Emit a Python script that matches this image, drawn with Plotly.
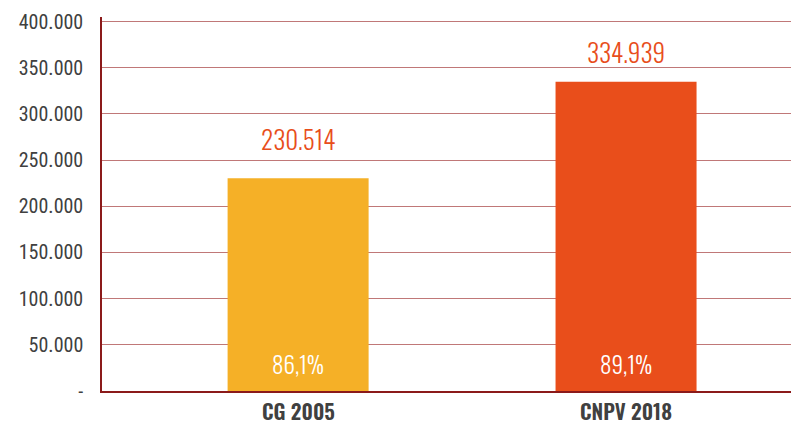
import plotly.graph_objects as go

categories = ["CG 2005", "CNPV 2018"]
values = [230514, 334939]
value_labels = ["230.514", "334.939"]
pct_labels = ["86,1%", "89,1%"]
bar_colors = ["#F5B027", "#E94E1B"]
tick_vals = [0, 50000, 100000, 150000, 200000, 250000, 300000, 350000, 400000]
tick_text = ["-", "50.000", "100.000", "150.000", "200.000", "250.000", "300.000", "350.000", "400.000"]

TICK_FONT = "Roboto Condensed, Oswald, sans-serif"
LABEL_FONT = "Oswald, Roboto Condensed, sans-serif"
label_shift = [19, 10]  # pixel offset of value labels above bars
xs = list(range(len(categories)))

fig = go.Figure()
fig.add_trace(go.Bar(
    x=xs, y=values, width=0.43,
    marker=dict(color=bar_colors, line=dict(width=0)),
    hoverinfo="skip",
))
for i in xs:
    fig.add_annotation(x=i, y=values[i], text=value_labels[i], showarrow=False,
                       yanchor="bottom", yshift=label_shift[i],
                       font=dict(size=25, color="#E84E1B", family=LABEL_FONT, weight=300))
    fig.add_annotation(x=i, y=0, text=pct_labels[i], showarrow=False,
                       yanchor="bottom", yshift=8,
                       font=dict(size=23, color="white", family=LABEL_FONT, weight=300))
    fig.add_annotation(x=i, y=0, text=categories[i], showarrow=False,
                       yanchor="top", yshift=-3, borderpad=0,
                       font=dict(size=21, color="#404040", family=LABEL_FONT, weight=600))

fig.update_layout(
    width=791, height=425,
    margin=dict(l=102, r=0, t=17, b=34),
    paper_bgcolor="white", plot_bgcolor="white",
    showlegend=False,
    xaxis=dict(range=[-0.598, 1.503], showticklabels=False, showgrid=False,
               zeroline=False, showline=True, linecolor="#8B1A1A", linewidth=1.5),
    yaxis=dict(range=[0, 405000], tickvals=tick_vals, ticktext=tick_text,
               showgrid=True, gridcolor="#C07878", gridwidth=1,
               zeroline=False, showline=True, linecolor="#8B1A1A", linewidth=1.5,
               tickfont=dict(size=20, color="#404040", family=TICK_FONT),
               ticks="", ticklabelstandoff=13),
)
fig.write_html("out.html", config={"displayModeBar": False},
               post_script="document.body.style.margin='0';")
